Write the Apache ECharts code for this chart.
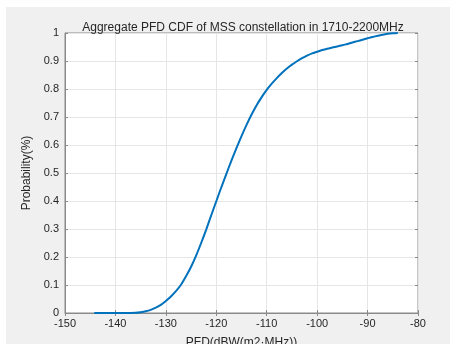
<!DOCTYPE html>
<html>
<head>
<meta charset="utf-8">
<script src="https://cdn.jsdelivr.net/npm/echarts@6/dist/echarts.min.js"></script>
<style>
html,body{margin:0;padding:0;background:#fff;width:450px;height:344px;overflow:hidden;}
#c{position:absolute;left:6px;top:7px;width:444px;height:337px;background:#f0f0f0;}
</style>
</head>
<body>
<div id="c"></div>
<script>
const titleText = 'Aggregate PFD CDF of MSS constellation in 1710-2200MHz';
const xName = 'PFD(dBW(m2·MHz))';
const yName = 'Probability(%)';
const pfd = [-144.2,-142,-140,-138,-136,-135,-134,-133,-132,-131,-130,-129,-128,-127,-126,-125,-124,-123,-122,-121,-120,-119,-118,-117,-116,-115,-114,-113,-112,-111,-110,-109,-108,-107,-106,-105,-104,-103,-102,-101,-100,-99,-98,-97,-96,-95,-94,-93,-92,-91,-90,-89,-88,-87,-86,-85,-84];
const prob = [0,0,0,0,0.001,0.003,0.006,0.011,0.019,0.029,0.043,0.059,0.078,0.101,0.131,0.165,0.205,0.25,0.298,0.349,0.399,0.449,0.497,0.544,0.589,0.632,0.672,0.709,0.742,0.771,0.797,0.819,0.839,0.857,0.873,0.887,0.899,0.91,0.919,0.927,0.933,0.939,0.944,0.948,0.952,0.956,0.961,0.966,0.971,0.976,0.981,0.986,0.99,0.994,0.997,0.999,1.0];
const xMin = -150, xMax = -80, xStep = 10;
const yMin = 0, yMax = 1, yStep = 0.1;

const chart = echarts.init(document.getElementById('c'), null, {renderer:'canvas'});
const font = 'Liberation Sans, Arial, Helvetica, sans-serif';
const axisCol = '#8a8a8a';
const txtCol = '#262626';
chart.setOption({
  backgroundColor: '#f0f0f0',
  animation: false,
  title: {
    text: titleText, left: 232, top: 10, textAlign: 'center',
    textStyle: {fontSize: 12, fontWeight: 'normal', color: txtCol, fontFamily: font}
  },
  grid: {left: 59, right: 32, top: 26, bottom: 31, show: true, backgroundColor: '#fff', borderColor: axisCol, borderWidth: 1, outerBoundsMode: 'none', containLabel: false},
  xAxis: [{
    type: 'value', min: xMin, max: xMax, interval: xStep,
    name: xName, nameLocation: 'middle', nameGap: 24,
    nameTextStyle: {fontSize: 12, color: txtCol, fontFamily: font},
    axisLine: {show: true, lineStyle: {color: axisCol}},
    axisTick: {show: true, inside: true, length: 3, lineStyle: {color: axisCol}},
    axisLabel: {fontSize: 11, color: txtCol, fontFamily: font, margin: 5},
    splitLine: {show: true, lineStyle: {color: '#e6e6e6'}}
  },{
    type: 'value', position: 'top', min: xMin, max: xMax, interval: xStep,
    axisLine: {show: false}, axisTick: {show: true, inside: true, length: 3, lineStyle: {color: axisCol}},
    axisLabel: {show: false}, splitLine: {show: false}
  }],
  yAxis: [{
    type: 'value', min: yMin, max: yMax, interval: yStep,
    name: yName, nameLocation: 'middle', nameGap: 28,
    nameTextStyle: {fontSize: 12, color: txtCol, fontFamily: font},
    axisLine: {show: true, lineStyle: {color: axisCol}},
    axisTick: {show: true, inside: true, length: 3, lineStyle: {color: axisCol}},
    axisLabel: {fontSize: 11, color: txtCol, fontFamily: font, margin: 6},
    splitLine: {show: true, lineStyle: {color: '#e6e6e6'}}
  },{
    type: 'value', position: 'right', min: yMin, max: yMax, interval: yStep,
    axisLine: {show: false}, axisTick: {show: true, inside: true, length: 3, lineStyle: {color: axisCol}},
    axisLabel: {show: false}, splitLine: {show: false}
  }],
  series: [{
    type: 'line', xAxisIndex: 0, yAxisIndex: 0,
    data: pfd.map((v, i) => [v, prob[i]]),
    showSymbol: false, smooth: 0.3,
    lineStyle: {color: '#0072BD', width: 2}
  }]
});
</script>
</body>
</html>
